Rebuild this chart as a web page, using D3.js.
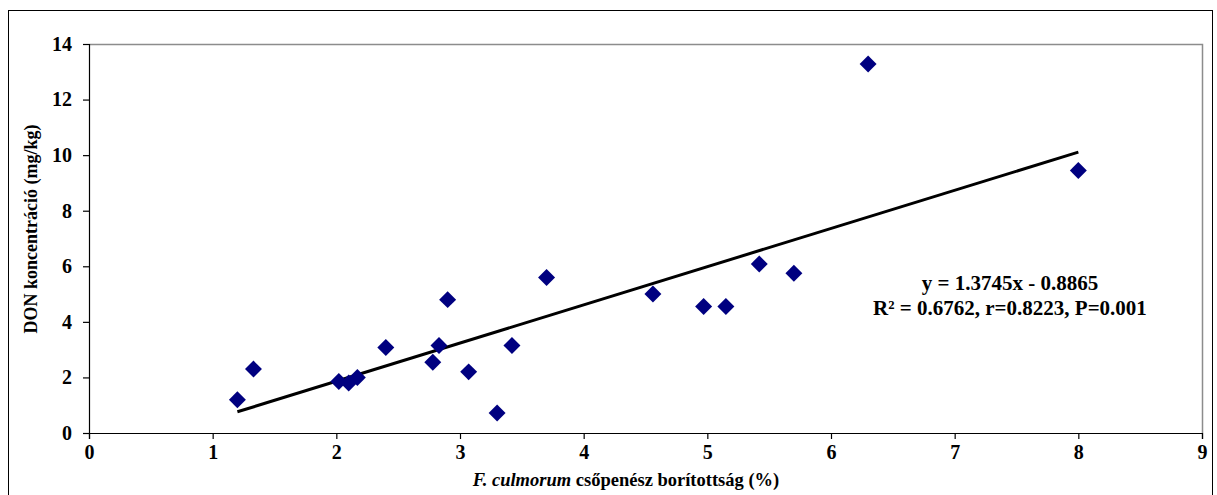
<!DOCTYPE html>
<html>
<head>
<meta charset="utf-8">
<script src="https://cdn.jsdelivr.net/npm/d3@7"></script>
<style>
  html, body { margin: 0; padding: 0; background: #fff; }
  svg { display: block; }
  text { font-family: "Liberation Serif", "Times New Roman", serif; font-weight: bold; fill: #000; }
</style>
</head>
<body>
<svg id="chart" width="1217" height="495"></svg>
<script>
// Fungal coverage (%) vs. DON concentration (mg/kg)
const coverage = [1.2, 1.33, 2.02, 2.1, 2.17, 2.4, 2.78, 2.83, 2.9, 3.07, 3.3, 3.42, 3.7, 4.56, 4.97, 5.15, 5.42, 5.7, 6.3, 8.0];
const don      = [1.2, 2.3, 1.85, 1.8, 2.0, 3.08, 2.55, 3.15, 4.8, 2.2, 0.72, 3.15, 5.6, 5.0, 4.55, 4.55, 6.08, 5.75, 13.28, 9.45];

// Linear fit reported in the annotation
const slope = 1.3745;
const intercept = -0.8865;
const fitRange = [1.2, 8.0];

const xTicks = [0, 1, 2, 3, 4, 5, 6, 7, 8, 9];
const yTicks = [0, 2, 4, 6, 8, 10, 12, 14];

const annotationLines = ["y = 1.3745x - 0.8865", "R² = 0.6762, r=0.8223, P=0.001"];

const svg = d3.select("#chart");

// outer frame
svg.append("rect")
  .attr("x", 8.5).attr("y", 10.5)
  .attr("width", 1204).attr("height", 500)
  .attr("fill", "#fff").attr("stroke", "#000").attr("stroke-width", 1);

const plot = { left: 89, right: 1202, top: 44, bottom: 433 };

const x = d3.scaleLinear().domain([0, 9]).range([plot.left, plot.right]);
const y = d3.scaleLinear().domain([0, 14]).range([plot.bottom, plot.top]);

// plot-area border (top and right in grey)
svg.append("path")
  .attr("d", `M${plot.left},${plot.top + 0.5}H${plot.right + 0.5}V${plot.bottom}`)
  .attr("fill", "none").attr("stroke", "#8c8c8c").attr("stroke-width", 1.5);

// axes
const xAxis = d3.axisBottom(x).tickValues(xTicks).tickFormat(d3.format("d")).tickSizeOuter(0).tickSize(6).tickPadding(6);
const yAxis = d3.axisLeft(y).tickValues(yTicks).tickFormat(d3.format("d")).tickSizeOuter(0).tickSize(6).tickPadding(11);

const gx = svg.append("g").attr("transform", `translate(0,${plot.bottom})`).call(xAxis);
const gy = svg.append("g").attr("transform", `translate(${plot.left},0)`).call(yAxis);

[gx, gy].forEach(g => {
  g.select(".domain").attr("stroke", "#000").attr("stroke-width", 1.2);
  g.selectAll(".tick line").attr("stroke", "#000").attr("stroke-width", 1.2);
  g.selectAll(".tick text")
    .attr("font-family", "'Liberation Serif', 'Times New Roman', serif")
    .attr("font-weight", "bold")
    .attr("font-size", 20)
    .attr("fill", "#000");
});

// trend line
svg.append("line")
  .attr("x1", x(fitRange[0])).attr("y1", y(slope * fitRange[0] + intercept))
  .attr("x2", x(fitRange[1])).attr("y2", y(slope * fitRange[1] + intercept))
  .attr("stroke", "#000").attr("stroke-width", 3);

// diamond markers
const pts = coverage.map((c, i) => ({ x: c, y: don[i] }));
const diamond = d3.symbol().type(d3.symbolSquare).size(144);
svg.append("g").selectAll("path")
  .data(pts)
  .join("path")
  .attr("d", diamond)
  .attr("transform", d => `translate(${x(d.x)},${y(d.y)}) rotate(45)`)
  .attr("fill", "#000080");

// regression annotation
const ann = svg.append("text")
  .attr("x", 1010).attr("y", 290)
  .attr("text-anchor", "middle")
  .attr("font-size", 21);
annotationLines.forEach((t, i) => {
  ann.append("tspan").attr("x", 1010).attr("dy", i === 0 ? 0 : 25).text(t);
});

// axis titles
svg.append("text")
  .attr("transform", `translate(37,229) rotate(-90)`)
  .attr("text-anchor", "middle")
  .attr("font-size", 18)
  .text("DON koncentráció (mg/kg)");

const xt = svg.append("text")
  .attr("x", 626).attr("y", 486)
  .attr("text-anchor", "middle")
  .attr("font-size", 18.5);
xt.append("tspan").attr("font-style", "italic").text("F. culmorum");
xt.append("tspan").text(" csőpenész borítottság (%)");
</script>
</body>
</html>
